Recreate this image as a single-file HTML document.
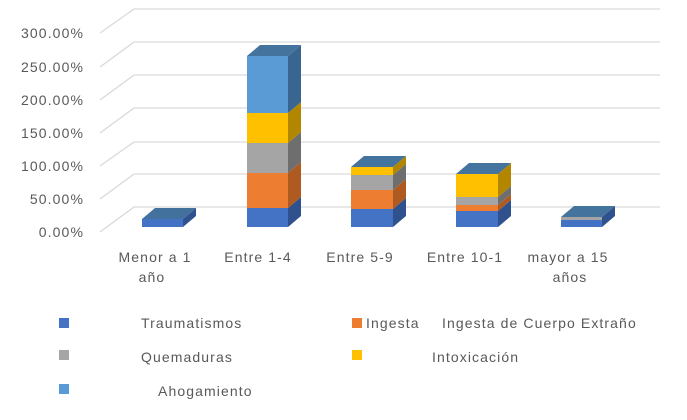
<!DOCTYPE html>
<html><head><meta charset="utf-8"><style>
body{margin:0;background:#fff}
svg text{font-family:"Liberation Sans",sans-serif;font-size:14px;letter-spacing:1.1px;fill:#595959}
</style></head><body>
<svg width="687" height="415" xmlns="http://www.w3.org/2000/svg">
<g stroke="#d9d9d9" stroke-width="1.3" fill="none">
<path d="M100 33 L134 9 H660"/><path d="M100 67 L134 42 H660"/><path d="M100 100 L134 75 H660"/>
<path d="M100 133 L134 108 H660"/><path d="M100 166 L134 142 H660"/><path d="M100 199 L134 174 H660"/>
<path d="M100 232 L134 207 H660"/>
</g>
<g text-anchor="end">
<text x="84" y="38">300.00%</text><text x="84" y="72">250.00%</text><text x="84" y="105">200.00%</text>
<text x="84" y="138">150.00%</text><text x="84" y="171">100.00%</text><text x="84" y="204">50.00%</text>
<text x="84" y="237">0.00%</text>
</g>
<g>
<rect x="142" y="219" width="41" height="8" fill="#4472c4"/>
<polygon points="183,219 196,208 196,216 183,227" fill="#2f528f"/>
<polygon points="142,219 155,208 196,208 183,219" fill="#41719c"/>
<rect x="247" y="208" width="41" height="19" fill="#4472c4"/>
<rect x="247" y="173" width="41" height="35" fill="#ed7d31"/>
<rect x="247" y="143" width="41" height="30" fill="#a5a5a5"/>
<rect x="247" y="113" width="41" height="30" fill="#ffc000"/>
<rect x="247" y="56" width="41" height="57" fill="#5b9bd5"/>
<polygon points="288,208 301,197 301,216 288,227" fill="#2f528f"/>
<polygon points="288,173 301,162 301,197 288,208" fill="#ae5a21"/>
<polygon points="288,143 301,132 301,162 288,173" fill="#6e6e6e"/>
<polygon points="288,113 301,102 301,132 288,143" fill="#b38600"/>
<polygon points="288,56 301,45 301,102 288,113" fill="#386690"/>
<polygon points="247,56 260,45 301,45 288,56" fill="#44739d"/>
<rect x="351" y="209" width="42" height="18" fill="#4472c4"/>
<rect x="351" y="190" width="42" height="19" fill="#ed7d31"/>
<rect x="351" y="175" width="42" height="15" fill="#a5a5a5"/>
<rect x="351" y="167" width="42" height="8" fill="#ffc000"/>
<polygon points="393,209 406,198 406,216 393,227" fill="#2f528f"/>
<polygon points="393,190 406,179 406,198 393,209" fill="#ae5a21"/>
<polygon points="393,175 406,164 406,179 393,190" fill="#6e6e6e"/>
<polygon points="393,167 406,156 406,164 393,175" fill="#b38600"/>
<polygon points="351,167 364,156 406,156 393,167" fill="#44739d"/>
<rect x="456" y="211" width="42" height="16" fill="#4472c4"/>
<rect x="456" y="205" width="42" height="6" fill="#ed7d31"/>
<rect x="456" y="197" width="42" height="8" fill="#a5a5a5"/>
<rect x="456" y="174" width="42" height="23" fill="#ffc000"/>
<polygon points="498,211 511,200 511,216 498,227" fill="#2f528f"/>
<polygon points="498,205 511,194 511,200 498,211" fill="#ae5a21"/>
<polygon points="498,197 511,186 511,194 498,205" fill="#6e6e6e"/>
<polygon points="498,174 511,163 511,186 498,197" fill="#b38600"/>
<polygon points="456,174 469,163 511,163 498,174" fill="#44739d"/>
<rect x="561" y="220" width="41" height="7" fill="#4472c4"/>
<rect x="561" y="217" width="41" height="3" fill="#a5a5a5"/>
<polygon points="602,217 615,206 615,216 602,227" fill="#2f528f"/>
<polygon points="561,217 574,206 615,206 602,217" fill="#44739d"/>
</g>
<g text-anchor="middle">
<text x="155" y="262">Menor a 1</text><text x="152" y="282">año</text>
<text x="258" y="262">Entre 1-4</text><text x="360" y="262">Entre 5-9</text>
<text x="465" y="262">Entre 10-1</text>
<text x="568" y="262">mayor a 15</text><text x="570" y="282">años</text>
</g>
<rect x="59" y="318" width="10" height="10" fill="#4472c4"/>
<text x="141" y="328">Traumatismos</text>
<rect x="352" y="318" width="10" height="10" fill="#ed7d31"/>
<text x="366" y="328">Ingesta</text>
<text x="442" y="328">Ingesta de Cuerpo Extraño</text>
<rect x="59" y="350" width="10" height="10" fill="#a5a5a5"/>
<text x="141" y="362">Quemaduras</text>
<rect x="352" y="350" width="10" height="10" fill="#ffc000"/>
<text x="432" y="362">Intoxicación</text>
<rect x="59" y="384" width="10" height="10" fill="#5b9bd5"/>
<text x="158" y="396">Ahogamiento</text>
</svg>
</body></html>
